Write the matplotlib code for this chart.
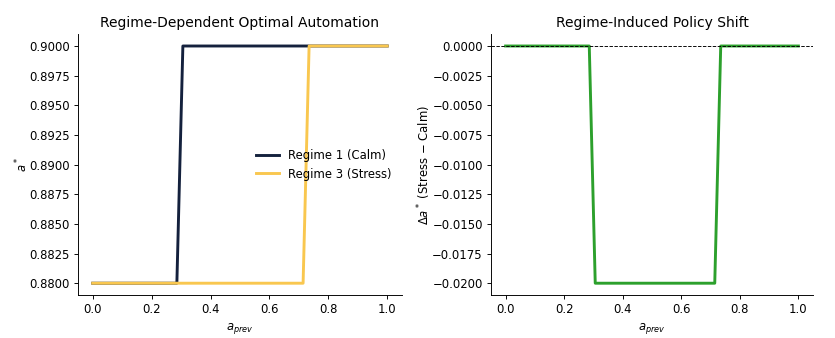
import matplotlib
matplotlib.use("Agg")
import matplotlib.pyplot as plt
import numpy as np

a_prev = [0.0, 0.2857, 0.3061, 0.7143, 0.7347, 1.0]
calm = [0.88, 0.88, 0.90, 0.90, 0.90, 0.90]
stress = [0.88, 0.88, 0.88, 0.88, 0.90, 0.90]
diff = list(np.array(stress) - np.array(calm))

C_CALM = "#14213d"
C_STRESS = "#f9c74f"
C_DIFF = "#2ca02c"

DPI = 83.5
fig = plt.figure(figsize=(835 / DPI, 338 / DPI), dpi=DPI)
ax1 = fig.add_axes([0.0934, 0.127, 0.388, 0.772])
ax2 = fig.add_axes([0.588, 0.127, 0.3857, 0.772])

ax1.plot(a_prev, calm, color=C_CALM, lw=2.5, label="Regime 1 (Calm)")
ax1.plot(a_prev, stress, color=C_STRESS, lw=2.5, label="Regime 3 (Stress)")
ax1.set_title("Regime-Dependent Optimal Automation", fontsize=12)
ax1.set_xlabel(r"$a_{prev}$")
ax1.set_ylabel(r"$a^*$", labelpad=-1)
yt1 = np.arange(0.88, 0.90001, 0.0025)
ax1.set_yticks(yt1)
ax1.set_yticklabels([f"{v:.4f}" for v in yt1])
ax1.set_xticks([0, 0.2, 0.4, 0.6, 0.8, 1.0])
ax1.legend(loc="center right", frameon=False)

ax2.plot(a_prev, diff, color=C_DIFF, lw=2.5)
ax2.axhline(0, color="black", ls="--", lw=0.8)
ax2.set_title("Regime-Induced Policy Shift", fontsize=12)
ax2.set_xlabel(r"$a_{prev}$")
ax2.set_ylabel(r"$\Delta a^*$ (Stress $-$ Calm)", labelpad=-1)
yt = np.arange(-0.02, 0.00001, 0.0025)
ax2.set_yticks(yt)
ax2.set_yticklabels([f"{v:.4f}".replace("-", "\u2212") if abs(v) > 1e-9 else "0.0000" for v in yt])
ax2.set_xticks([0, 0.2, 0.4, 0.6, 0.8, 1.0])

for ax in (ax1, ax2):
    ax.spines["top"].set_visible(False)
    ax.spines["right"].set_visible(False)

fig.savefig("out.png", dpi=DPI)
